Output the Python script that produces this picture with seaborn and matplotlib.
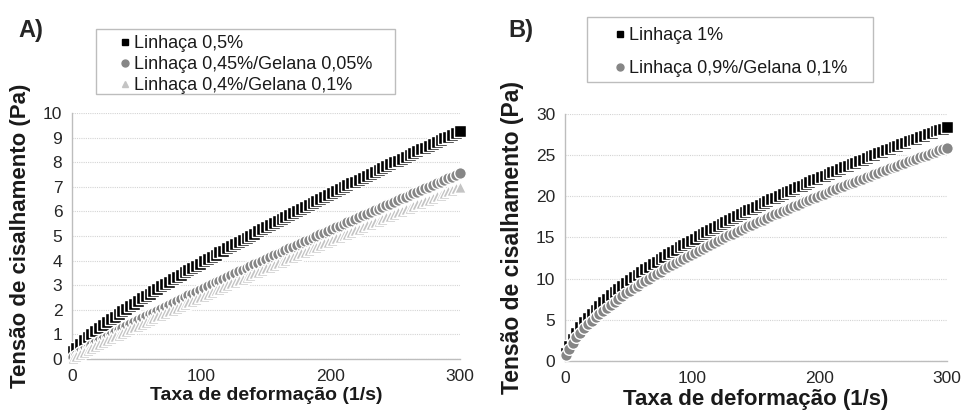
import matplotlib
matplotlib.use("Agg")
import matplotlib.pyplot as plt
import seaborn as sns
import pandas as pd
from matplotlib.lines import Line2D
from matplotlib.patches import Rectangle

# ---------------- data ----------------
shear_rate = [1, 3, 6, 9, 12, 15, 18, 21, 24, 27, 30, 33, 36, 39, 42, 45, 48, 51, 54, 57,
              60, 63, 66, 69, 72, 75, 78, 81, 84, 87, 90, 93, 96, 99, 102, 105, 108, 111, 114, 117,
              120, 123, 126, 129, 132, 135, 138, 141, 144, 147, 150, 153, 156, 159, 162, 165, 168, 171, 174, 177,
              180, 183, 186, 189, 192, 195, 198, 201, 204, 207, 210, 213, 216, 219, 222, 225, 228, 231, 234, 237,
              240, 243, 246, 249, 252, 255, 258, 261, 264, 267, 270, 273, 276, 279, 282, 285, 288, 291, 294, 297, 300]

# Panel A
a_linhaca_05 = [0.33, 0.46, 0.61, 0.76, 0.89, 1.02, 1.14, 1.26, 1.38, 1.50, 1.62, 1.72, 1.83, 1.94, 2.05, 2.15, 2.25, 2.36, 2.46, 2.56,
                2.66, 2.76, 2.85, 2.95, 3.05, 3.14, 3.24, 3.33, 3.42, 3.52, 3.61, 3.70, 3.79, 3.88, 3.97, 4.06, 4.15, 4.24, 4.33, 4.41,
                4.50, 4.59, 4.67, 4.76, 4.85, 4.93, 5.02, 5.10, 5.19, 5.27, 5.36, 5.44, 5.52, 5.61, 5.69, 5.77, 5.85, 5.93, 6.02, 6.10,
                6.18, 6.26, 6.34, 6.42, 6.50, 6.58, 6.66, 6.74, 6.82, 6.90, 6.98, 7.06, 7.14, 7.21, 7.29, 7.37, 7.45, 7.53, 7.60, 7.68,
                7.76, 7.84, 7.91, 7.99, 8.06, 8.14, 8.22, 8.29, 8.37, 8.44, 8.52, 8.59, 8.67, 8.74, 8.82, 8.89, 8.97, 9.04, 9.12, 9.19, 9.27]
a_linhaca_045_gel_005 = [0.09, 0.17, 0.27, 0.37, 0.46, 0.56, 0.64, 0.73, 0.82, 0.91, 0.99, 1.08, 1.16, 1.24, 1.33, 1.41, 1.49, 1.57, 1.65, 1.73,
                         1.81, 1.89, 1.97, 2.05, 2.12, 2.20, 2.28, 2.36, 2.43, 2.51, 2.59, 2.66, 2.74, 2.81, 2.89, 2.96, 3.04, 3.11, 3.19, 3.26,
                         3.34, 3.41, 3.48, 3.56, 3.63, 3.70, 3.78, 3.85, 3.92, 3.99, 4.07, 4.14, 4.21, 4.28, 4.36, 4.43, 4.50, 4.57, 4.64, 4.71,
                         4.78, 4.85, 4.92, 5.00, 5.07, 5.14, 5.21, 5.28, 5.35, 5.42, 5.49, 5.56, 5.63, 5.70, 5.77, 5.84, 5.90, 5.97, 6.04, 6.11,
                         6.18, 6.25, 6.32, 6.39, 6.46, 6.53, 6.59, 6.66, 6.73, 6.80, 6.87, 6.94, 7.00, 7.07, 7.14, 7.21, 7.28, 7.34, 7.41, 7.48, 7.55]
a_linhaca_04_gel_01 = [0.05, 0.12, 0.20, 0.29, 0.37, 0.45, 0.53, 0.61, 0.68, 0.76, 0.84, 0.92, 0.99, 1.07, 1.14, 1.22, 1.29, 1.36, 1.44, 1.51,
                       1.58, 1.66, 1.73, 1.80, 1.87, 1.94, 2.01, 2.09, 2.16, 2.23, 2.30, 2.37, 2.44, 2.51, 2.58, 2.65, 2.72, 2.79, 2.86, 2.93,
                       3.00, 3.07, 3.14, 3.21, 3.27, 3.34, 3.41, 3.48, 3.55, 3.62, 3.69, 3.75, 3.82, 3.89, 3.96, 4.03, 4.09, 4.16, 4.23, 4.30,
                       4.36, 4.43, 4.50, 4.56, 4.63, 4.70, 4.77, 4.83, 4.90, 4.97, 5.03, 5.10, 5.17, 5.23, 5.30, 5.36, 5.43, 5.50, 5.56, 5.63,
                       5.69, 5.76, 5.83, 5.89, 5.96, 6.02, 6.09, 6.15, 6.22, 6.29, 6.35, 6.42, 6.48, 6.55, 6.61, 6.68, 6.74, 6.81, 6.87, 6.94, 7.00]

# Panel B
b_linhaca_1 = [0.93, 1.79, 2.72, 3.46, 4.12, 4.71, 5.25, 5.76, 6.24, 6.70, 7.13, 7.55, 7.96, 8.35, 8.73, 9.10, 9.45, 9.80, 10.15, 10.48,
               10.81, 11.13, 11.44, 11.75, 12.06, 12.36, 12.65, 12.94, 13.23, 13.51, 13.79, 14.06, 14.33, 14.59, 14.86, 15.13, 15.38, 15.63, 15.88, 16.14,
               16.39, 16.63, 16.87, 17.11, 17.35, 17.59, 17.82, 18.05, 18.28, 18.51, 18.74, 18.96, 19.18, 19.40, 19.62, 19.84, 20.05, 20.27, 20.48, 20.69,
               20.90, 21.11, 21.31, 21.52, 21.73, 21.93, 22.13, 22.33, 22.53, 22.73, 22.93, 23.12, 23.31, 23.51, 23.70, 23.90, 24.09, 24.28, 24.47, 24.65,
               24.84, 25.03, 25.21, 25.39, 25.58, 25.76, 25.94, 26.12, 26.30, 26.48, 26.66, 26.84, 27.02, 27.19, 27.37, 27.54, 27.72, 27.89, 28.06, 28.23, 28.40]
b_linhaca_09_gel_01 = [0.72, 1.44, 2.23, 2.87, 3.44, 3.96, 4.44, 4.89, 5.32, 5.72, 6.11, 6.49, 6.85, 7.21, 7.55, 7.88, 8.20, 8.52, 8.83, 9.13,
                       9.44, 9.73, 10.01, 10.29, 10.58, 10.86, 11.12, 11.39, 11.65, 11.91, 12.18, 12.42, 12.67, 12.92, 13.16, 13.41, 13.64, 13.88, 14.11, 14.35,
                       14.58, 14.80, 15.03, 15.25, 15.47, 15.70, 15.91, 16.13, 16.34, 16.56, 16.77, 16.98, 17.18, 17.39, 17.60, 17.80, 18.00, 18.20, 18.40, 18.60,
                       18.80, 18.99, 19.19, 19.38, 19.58, 19.77, 19.96, 20.15, 20.33, 20.52, 20.71, 20.89, 21.08, 21.26, 21.44, 21.63, 21.80, 21.98, 22.16, 22.34,
                       22.52, 22.69, 22.87, 23.04, 23.22, 23.39, 23.56, 23.73, 23.90, 24.07, 24.25, 24.41, 24.58, 24.75, 24.91, 25.08, 25.24, 25.41, 25.57, 25.74, 25.90]

labels_a = ["Linhaça 0,5%", "Linhaça 0,45%/Gelana 0,05%", "Linhaça 0,4%/Gelana 0,1%"]
labels_b = ["Linhaça 1%", "Linhaça 0,9%/Gelana 0,1%"]
x_ticks = [0, 100, 200, 300]
y_ticks_a = [0, 1, 2, 3, 4, 5, 6, 7, 8, 9, 10]
y_ticks_b = [0, 5, 10, 15, 20, 25, 30]
xlabel = "Taxa de deformação (1/s)"
ylabel = "Tensão de cisalhamento (Pa)"

# ---------------- style ----------------
sns.set_style("white")
plt.rcParams['font.family'] = ['Liberation Sans', 'DejaVu Sans']

W, H = 965, 420
fig = plt.figure(figsize=(W / 100, H / 100), dpi=100)


def fx(px):
    return px / W


def fy(py):
    return 1 - py / H


axA = fig.add_axes([fx(72), fy(359), fx(460) - fx(72), fy(113) - fy(359)])
axB = fig.add_axes([fx(565), fy(361), fx(947) - fx(565), fy(114) - fy(361)])

BLACK = "#000000"
GRAY = "#868686"
LIGHT = "#c4c4c4"
SPINE = "#bdbdbd"

dfA = pd.DataFrame({"x": shear_rate, "s1": a_linhaca_05, "s2": a_linhaca_045_gel_005, "s3": a_linhaca_04_gel_01})
dfB = pd.DataFrame({"x": shear_rate, "s1": b_linhaca_1, "s2": b_linhaca_09_gel_01})

ms = 64
common = dict(edgecolor="white", linewidth=1.0, clip_on=False, legend=False, zorder=3)

sns.scatterplot(data=dfA, x="x", y="s1", ax=axA, marker="s", color=BLACK, s=ms, **common)
sns.scatterplot(data=dfA, x="x", y="s2", ax=axA, marker="o", color=GRAY, s=ms * 1.1, **common)
sns.scatterplot(data=dfA, x="x", y="s3", ax=axA, marker="^", color=LIGHT, s=ms * 1.1, **common)

sns.scatterplot(data=dfB, x="x", y="s1", ax=axB, marker="s", color=BLACK, s=ms, **common)
sns.scatterplot(data=dfB, x="x", y="s2", ax=axB, marker="o", color=GRAY, s=ms * 1.1, **common)


def style_axis(ax, yticks, tick_fs, label_fs, ylab_fs, ylab_x):
    ax.set_xlim(0, 300)
    ax.set_ylim(yticks[0], yticks[-1])
    ax.set_xticks(x_ticks)
    ax.set_yticks(yticks)
    ax.set_axisbelow(True)
    ax.yaxis.grid(True, linestyle=(0, (1, 1)), color="#d4d4d4", linewidth=0.8)
    ax.xaxis.grid(False)
    for side in ["top", "right"]:
        ax.spines[side].set_visible(False)
    for side in ["left", "bottom"]:
        ax.spines[side].set_color(SPINE)
        ax.spines[side].set_linewidth(1.0)
    ax.tick_params(axis="both", which="major", length=4, width=1.0, color=SPINE,
                   labelsize=tick_fs, labelcolor="#262626", direction="out")
    ax.tick_params(axis="x", pad=3)
    ax.tick_params(axis="y", pad=3)
    ax.set_xlabel(xlabel, fontsize=label_fs, fontweight="bold", labelpad=2, color="#1a1a1a")
    ax.set_ylabel(ylabel, fontsize=ylab_fs, fontweight="bold", color="#1a1a1a")
    ax.yaxis.set_label_coords(ylab_x, 0.5)


style_axis(axA, y_ticks_a, 12.5, 14, 16, -0.106)
style_axis(axB, y_ticks_b, 12.5, 16, 16.5, -0.107)

# panel letters
fig.text(fx(18), fy(31), "A)", fontsize=17, fontweight="bold", va="center", ha="left")
fig.text(fx(508), fy(31), "B)", fontsize=17, fontweight="bold", va="center", ha="left")

# legends (frame drawn as a rectangle)
fig.patches.append(Rectangle((fx(96), fy(94)), fx(395) - fx(96), fy(29) - fy(94),
                             transform=fig.transFigure, fill=False, edgecolor=SPINE, linewidth=1.0))
fig.patches.append(Rectangle((fx(587), fy(82)), fx(873) - fx(587), fy(17) - fy(82),
                             transform=fig.transFigure, fill=False, edgecolor=SPINE, linewidth=1.0))

hA = [Line2D([], [], linestyle="none", marker="s", color=BLACK, markersize=5),
      Line2D([], [], linestyle="none", marker="o", color=GRAY, markersize=5),
      Line2D([], [], linestyle="none", marker="^", color=LIGHT, markersize=5)]
hB = [Line2D([], [], linestyle="none", marker="s", color=BLACK, markersize=5),
      Line2D([], [], linestyle="none", marker="o", color=GRAY, markersize=5)]

legA = fig.legend(hA, labels_a, loc="upper left", bbox_to_anchor=(fx(120), fy(35)),
                  frameon=False, fontsize=13, handlelength=0.5, handletextpad=0.25,
                  labelspacing=0.23, borderpad=0, borderaxespad=0)
legB = fig.legend(hB, labels_b, loc="upper left", bbox_to_anchor=(fx(615), fy(27)),
                  frameon=False, fontsize=13, handlelength=0.5, handletextpad=0.25,
                  labelspacing=0.9, borderpad=0, borderaxespad=0)
for leg in (legA, legB):
    for t in leg.get_texts():
        t.set_color("#1a1a1a")

fig.savefig("out.png", dpi=100)
